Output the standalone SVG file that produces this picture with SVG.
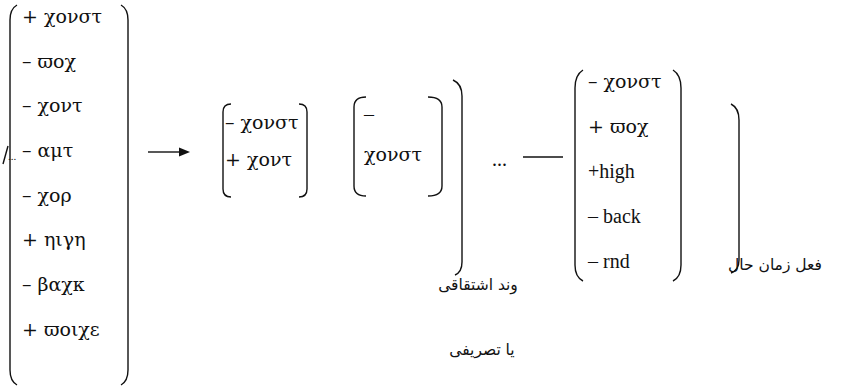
<svg xmlns="http://www.w3.org/2000/svg" width="852" height="387" viewBox="0 0 852 387">
<style>
.br{fill:none;stroke:#111;stroke-width:1.4}
.t{font-family:'Liberation Serif',serif;font-size:20px;fill:#111}
.g{font-family:'DejaVu Serif',serif;font-size:19px;fill:#111}
.ar{font-family:'DejaVu Sans',sans-serif;font-size:15.5px;fill:#111}
.ln{stroke:#111;stroke-width:1.4}
</style>
<rect width="852" height="387" fill="#fff"/>
<g id="matrix-left">
<path class="br" d="M17,5 Q10,9 10,20 L10,370 Q10,381 17,385"/>
<path class="br" d="M121,5 Q128,9 128,20 L128,370 Q128,381 121,385"/>
<text class="g" x="22" y="23">+ χονστ</text>
<text class="g" x="22" y="68">–  ϖοχ</text>
<text class="g" x="22" y="112">– χοντ</text>
<text class="g" x="22" y="157">– αμτ</text>
<text class="g" x="22" y="202">– χορ</text>
<text class="g" x="22" y="246">+ ηιγη</text>
<text class="g" x="22" y="291">– βαχκ</text>
<text class="g" x="22" y="336">+ ϖοιχε</text>
<path class="ln" d="M3,164 L8,146" fill="none"/>
<text class="t" x="8" y="160" style="font-size:11px">...</text>
</g>
<g id="connectors">
<line class="ln" x1="148" y1="152" x2="180" y2="152"/>
<polygon points="190,152 179,147.5 179,156.5" fill="#111"/>
<line class="ln" x1="523" y1="157" x2="563" y2="157"/>
</g>
<g id="matrix-2">
<path class="br" d="M231,104 Q223,104 223,112 L223,189 Q223,197 231,197"/>
<path class="br" d="M299,104 Q307,104 307,112 L307,189 Q307,197 299,197"/>
<text class="g" x="225" y="129">– χονστ</text>
<text class="g" x="225" y="166">+ χοντ</text>
</g>
<g id="matrix-3">
<path class="br" d="M366,97 Q354,97 354,107 L354,186 Q354,196 366,196"/>
<path class="br" d="M428,97 Q442,97 442,107 L442,186 Q442,196 428,196"/>
<text class="t" x="364" y="121">–</text>
<text class="g" x="364" y="161">χονστ</text>
</g>
<g id="affix-bracket">
<path class="br" d="M453,80 Q462,84 462,96 L462,262 Q462,272 455,275"/>
<text class="ar" x="478" y="290" text-anchor="middle">وند اشتقاقی</text>
<text class="ar" x="482" y="355" text-anchor="middle">یا تصریفی</text>
</g>
<text class="t" x="492" y="166">...</text>
<g id="matrix-4">
<path class="br" d="M583,70 Q575,75 575,88 L575,265 Q575,277 583,281"/>
<path class="br" d="M673,70 Q681,75 681,88 L681,265 Q681,277 673,281"/>
<text class="g" x="588" y="88">– χονστ</text>
<text class="g" x="588" y="133">+ ϖοχ</text>
<text class="t" x="588" y="178">+high</text>
<text class="t" x="588" y="223">– back</text>
<text class="t" x="588" y="268">– rnd</text>
</g>
<g id="verb-bracket">
<path class="br" d="M731,104 Q739,108 739,120 L739,260 Q739,270 731,273"/>
<text class="ar" x="775" y="270" text-anchor="middle">فعل زمان حال</text>
</g>
</svg>
